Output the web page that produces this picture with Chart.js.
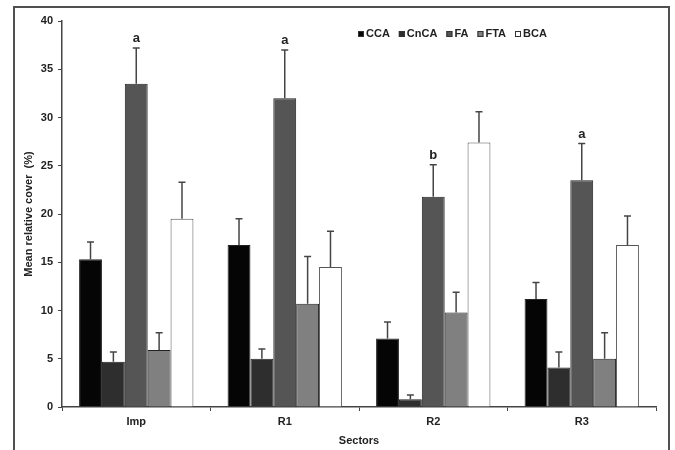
<!DOCTYPE html>
<html>
<head>
<meta charset="utf-8">
<script src="https://cdn.jsdelivr.net/npm/chart.js@4/dist/chart.umd.min.js"></script>
<style>
    html, body { margin: 0; padding: 0; background: #fff; }
    #wrap { position: relative; width: 675px; height: 450px; overflow: hidden; }
    #frame { position: absolute; left: 13px; top: 6px; width: 653px; height: 470px; border: 2px solid #505050; }
    canvas { position: absolute; left: 0; top: 0; }
</style>
</head>
<body>
<div id="wrap">
    <div id="frame"></div>
    <canvas id="grafico" width="675" height="450"></canvas>
</div>
<script>
// ===== DADOS =====
const sectors = ['Imp', 'R1', 'R2', 'R3'];
const groups = ['CCA', 'CnCA', 'FA', 'FTA', 'BCA'];

const cca = [15.3, 16.8, 7.1, 11.2];
const cnca = [4.7, 5.0, 0.8, 4.1];
const fa = [33.5, 32.0, 21.8, 23.5];
const fta = [5.9, 10.7, 9.8, 5.0];
const bca = [19.5, 14.5, 27.4, 16.8];

// standard errors (upper whisker only)
const ccaErr = [1.8, 2.7, 1.7, 1.7];
const cncaErr = [1.0, 1.0, 0.45, 1.6];
const faErr = [3.7, 5.0, 3.3, 3.8];
const ftaErr = [1.8, 4.9, 2.1, 2.7];
const bcaErr = [3.8, 3.7, 3.2, 3.0];

const faLetters = ['a', 'a', 'b', 'a'];

const yTicks = [0, 5, 10, 15, 20, 25, 30, 35, 40];

const fontBold = "bold 11px 'Liberation Sans', Arial, sans-serif";

// ===== PLUGIN: barras de erro + letras =====
const errorBars = {
    id: 'errorBars',
    afterDatasetsDraw(chart) {
        const ctx = chart.ctx;
        const y = chart.scales.y;
        ctx.save();
        ctx.strokeStyle = '#454545';
        ctx.lineWidth = 1.5;
        chart.data.datasets.forEach((ds, i) => {
            const meta = chart.getDatasetMeta(i);
            meta.data.forEach((bar, j) => {
                const top = y.getPixelForValue(ds.data[j] + ds.err[j]);
                ctx.beginPath();
                ctx.moveTo(bar.x, bar.y);
                ctx.lineTo(bar.x, top);
                ctx.moveTo(bar.x - 3.5, top);
                ctx.lineTo(bar.x + 3.5, top);
                ctx.stroke();
                if (ds.letters) {
                    ctx.fillStyle = '#222';
                    ctx.font = "bold 13px 'Liberation Sans', Arial, sans-serif";
                    ctx.textAlign = 'center';
                    ctx.textBaseline = 'bottom';
                    ctx.fillText(ds.letters[j], bar.x, top - 3);
                }
            });
        });
        ctx.restore();
    }
};

// ===== PLUGIN: legenda =====
const legendaTopo = {
    id: 'legendaTopo',
    afterDraw(chart) {
        const ctx = chart.ctx;
        ctx.save();
        ctx.font = fontBold;
        ctx.textBaseline = 'middle';
        ctx.textAlign = 'left';
        let x = 358;
        const yc = 34;
        chart.data.datasets.forEach(ds => {
            ctx.fillStyle = ds.backgroundColor;
            ctx.strokeStyle = '#333';
            ctx.lineWidth = 1;
            ctx.fillRect(x, yc - 3, 6, 6);
            ctx.strokeRect(x + 0.5, yc - 2.5, 5, 5);
            ctx.fillStyle = '#222';
            ctx.fillText(ds.label, x + 8, yc);
            x += 8 + ctx.measureText(ds.label).width + 9;
        });
        ctx.restore();
    }
};

const cores = ['#050505', '#2e2e2e', '#555555', '#808080', '#ffffff'];
const valores = [cca, cnca, fa, fta, bca];
const erros = [ccaErr, cncaErr, faErr, ftaErr, bcaErr];

new Chart(document.getElementById('grafico'), {
    type: 'bar',
    data: {
        labels: sectors,
        datasets: groups.map((g, i) => ({
            label: g,
            data: valores[i],
            err: erros[i],
            letters: g === 'FA' ? faLetters : null,
            backgroundColor: cores[i],
            borderColor: i === 4 ? '#555' : '#222',
            borderWidth: 1,
            barPercentage: 1,
            categoryPercentage: 0.77
        }))
    },
    options: {
        responsive: false,
        animation: false,
        devicePixelRatio: 1,
        layout: { padding: { left: 16, right: 19, top: 21, bottom: 0 } },
        plugins: { legend: { display: false }, tooltip: { enabled: false } },
        scales: {
            x: {
                afterFit(s) { s.height = 43; },
                grid: { drawOnChartArea: false, drawTicks: true, tickLength: 4, color: '#444', offset: true },
                border: { display: true, color: '#444', width: 1.5 },
                ticks: { color: '#222', font: { family: "'Liberation Sans', Arial", size: 11, weight: 'bold' }, padding: 4 },
                title: {
                    display: true, text: 'Sectors', color: '#222',
                    font: { family: "'Liberation Sans', Arial", size: 11, weight: 'bold' },
                    padding: { top: 0, bottom: 2 }
                }
            },
            y: {
                min: 0, max: 40,
                afterFit(s) { s.width = 46; },
                afterBuildTicks(s) { s.ticks = yTicks.map(v => ({ value: v })); },
                grid: { drawOnChartArea: false, drawTicks: true, tickLength: 4, color: '#444' },
                border: { display: true, color: '#444', width: 1.5 },
                ticks: { color: '#222', font: { family: "'Liberation Sans', Arial", size: 11, weight: 'bold' }, padding: 5 },
                title: {
                    display: true, text: 'Mean relative cover  (%)', color: '#222',
                    font: { family: "'Liberation Sans', Arial", size: 11, weight: 'bold' },
                    padding: { top: 6, bottom: 0 }
                }
            }
        }
    },
    plugins: [errorBars, legendaTopo]
});
</script>
</body>
</html>
